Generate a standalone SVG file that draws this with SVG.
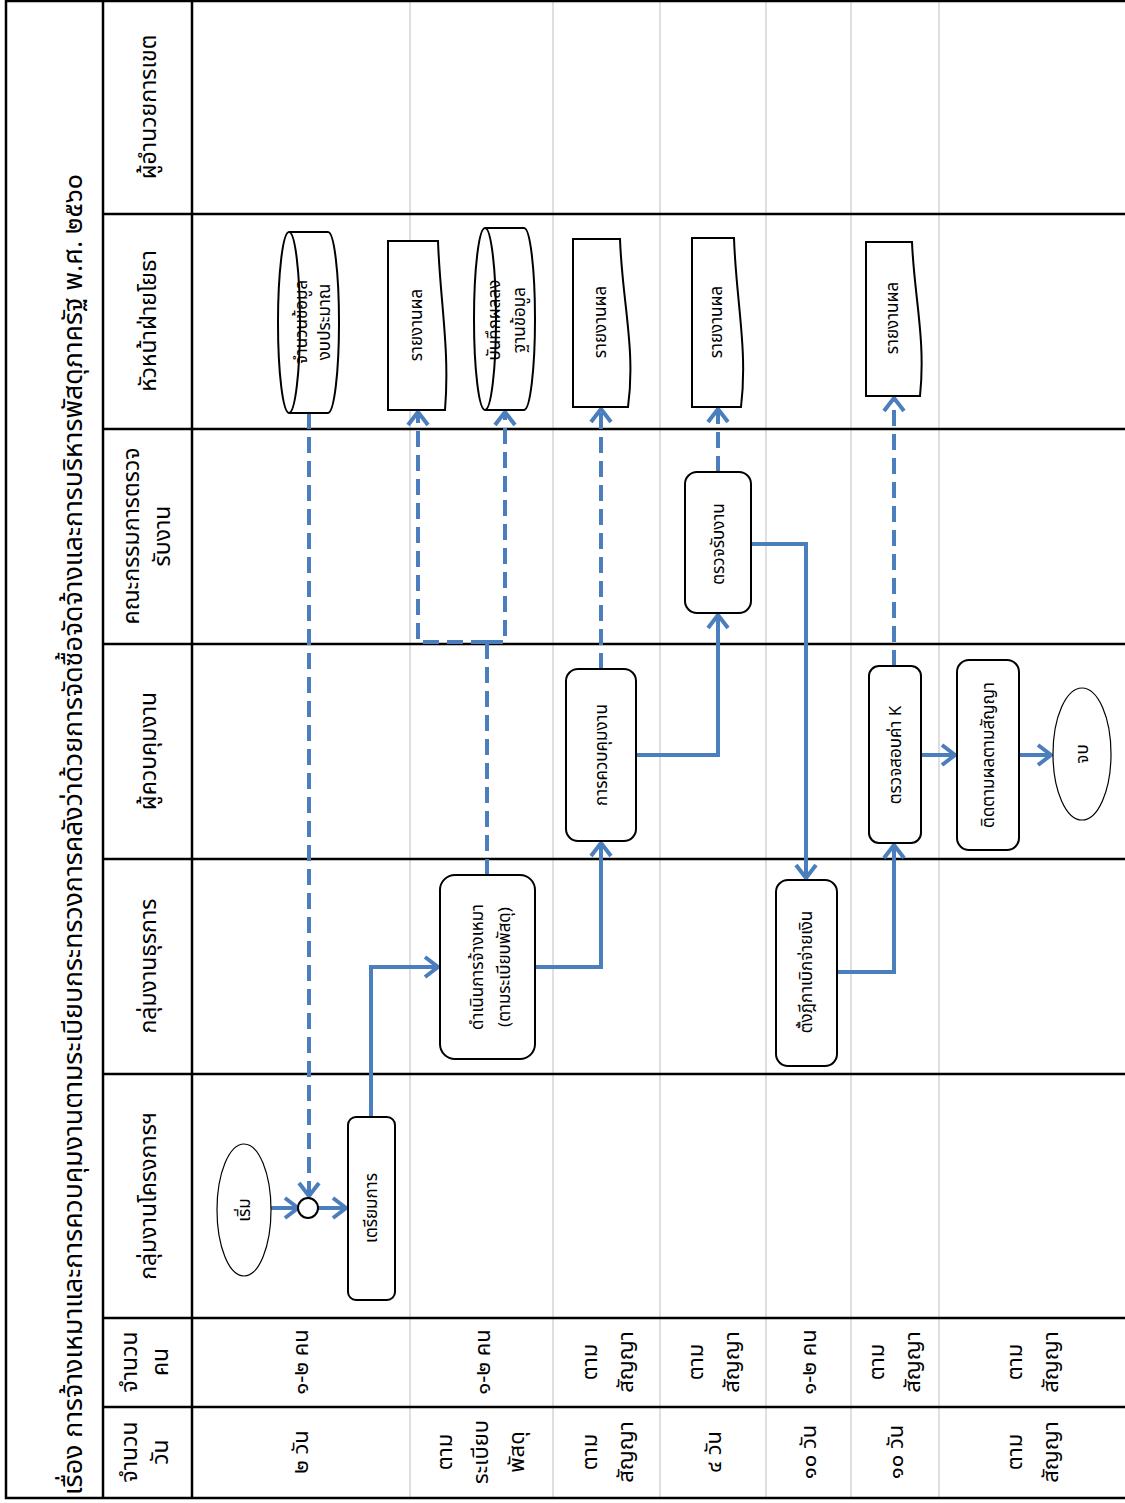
<svg xmlns="http://www.w3.org/2000/svg" width="1125" height="1503" viewBox="0 0 1125 1503">
<defs>
<style>
.t{font-family:"Noto Sans Thai","Noto Sans","DejaVu Sans",sans-serif;fill:#000;text-anchor:middle}
.grid{stroke:#000;stroke-width:2.5;fill:none}
.thin{stroke:#BFBFBF;stroke-width:1;fill:none}
.node{fill:#fff;stroke:#000;stroke-width:2}
.c{fill:none;stroke:#4A7EBD;stroke-width:4}
.d{stroke-dasharray:16,8}
</style>
<marker id="ah" markerUnits="userSpaceOnUse" markerWidth="20" markerHeight="24" viewBox="-16 -12 20 24" refX="0" refY="0" orient="auto">
<path d="M-13,-10 L0,0 L-13,10" fill="none" stroke="#4A7EBD" stroke-width="4"/>
</marker>
</defs>
<rect width="1125" height="1503" fill="#fff"/>
<g id="grid">
<g class="thin">
<path d="M410,0V1498M553,0V1498M660,0V1498M766,0V1498M851,0V1498M939,0V1498"/>
</g>
<g class="grid">
<rect x="6" y="1" width="1125" height="1497"/>
<path d="M103,0V1498M192,0V1498"/>
<path d="M103,214H1125M103,429H1125M103,644H1125M103,859H1125M103,1074H1125M103,1318H1125M103,1407H1125"/>
</g>
</g>
<g id="title">
<text class="t" style="text-anchor:start" font-size="26.7" transform="translate(82,1495) rotate(-90)">เรื่อง การจ้างเหมาและการควบคุมงานตามระเบียบกระทรวงการคลังว่าด้วยการจัดซื้อจัดจ้างและการบริหารพัสดุภาครัฐ พ.ศ. ๒๕๖๐</text>
</g>
<g id="lanes" font-size="23">
<text class="t" transform="translate(156,107) rotate(-90)">ผู้อำนวยการเขต</text>
<text class="t" transform="translate(156,321) rotate(-90)">หัวหน้าฝ่ายโยธา</text>
<text class="t" transform="translate(139,536) rotate(-90)">คณะกรรมการตรวจ<tspan x="0" dy="31">รับงาน</tspan></text>
<text class="t" transform="translate(156,751) rotate(-90)">ผู้ควบคุมงาน</text>
<text class="t" transform="translate(156,966) rotate(-90)">กลุ่มงานธุรการ</text>
<text class="t" transform="translate(156,1196) rotate(-90)">กลุ่มงานโครงการฯ</text>
<text class="t" transform="translate(137,1362) rotate(-90)">จำนวน<tspan x="0" dy="31">คน</tspan></text>
<text class="t" transform="translate(137,1452) rotate(-90)">จำนวน<tspan x="0" dy="31">วัน</tspan></text>
</g>
<g id="rows" font-size="22">
<text class="t" transform="translate(308,1362) rotate(-90)">๑-๒ คน</text>
<text class="t" transform="translate(308,1452) rotate(-90)">๒ วัน</text>
<text class="t" transform="translate(490,1362) rotate(-90)">๑-๒ คน</text>
<text class="t" transform="translate(452,1452) rotate(-90)">ตาม<tspan x="0" dy="36">ระเบียบ</tspan><tspan x="0" dy="36">พัสดุ</tspan></text>
<text class="t" transform="translate(597,1362) rotate(-90)">ตาม<tspan x="0" dy="36">สัญญา</tspan></text>
<text class="t" transform="translate(597,1452) rotate(-90)">ตาม<tspan x="0" dy="36">สัญญา</tspan></text>
<text class="t" transform="translate(703,1362) rotate(-90)">ตาม<tspan x="0" dy="36">สัญญา</tspan></text>
<text class="t" transform="translate(721,1452) rotate(-90)">๔ วัน</text>
<text class="t" transform="translate(816,1362) rotate(-90)">๑-๒ คน</text>
<text class="t" transform="translate(816,1452) rotate(-90)">๑๐ วัน</text>
<text class="t" transform="translate(884,1362) rotate(-90)">ตาม<tspan x="0" dy="36">สัญญา</tspan></text>
<text class="t" transform="translate(903,1452) rotate(-90)">๑๐ วัน</text>
<text class="t" transform="translate(1022,1362) rotate(-90)">ตาม<tspan x="0" dy="36">สัญญา</tspan></text>
<text class="t" transform="translate(1022,1452) rotate(-90)">ตาม<tspan x="0" dy="36">สัญญา</tspan></text>
</g>
<g id="connectors" class="c">
<path d="M271,1208H298" marker-end="url(#ah)"/>
<path d="M318,1208H346" marker-end="url(#ah)"/>
<path class="d" d="M309,413V1196" marker-end="url(#ah)"/>
<path d="M371,1117V967H438" marker-end="url(#ah)"/>
<path class="d" d="M487,875V642"/>
<path class="d" d="M487,642H418V412" marker-end="url(#ah)"/>
<path class="d" d="M487,642H505V412" marker-end="url(#ah)"/>
<path d="M535,967H601V843" marker-end="url(#ah)"/>
<path class="d" d="M601,669V409" marker-end="url(#ah)"/>
<path d="M636,755H718V615" marker-end="url(#ah)"/>
<path class="d" d="M718,472V409" marker-end="url(#ah)"/>
<path d="M751,544H806V878" marker-end="url(#ah)"/>
<path d="M837,972H894V845" marker-end="url(#ah)"/>
<path class="d" d="M894,666V398" marker-end="url(#ah)"/>
<path d="M921,755H955" marker-end="url(#ah)"/>
<path d="M1019,755H1051" marker-end="url(#ah)"/>
</g>
<g id="n-start"><ellipse class="node" style="stroke-width:1.2" cx="244" cy="1210" rx="27" ry="66"/><text class="t" font-size="17" transform="translate(250,1210) rotate(-90)">เริ่ม</text></g>
<g id="n-join"><circle class="node" cx="308" cy="1208" r="10"/></g>
<g id="n-prep"><rect class="node" x="348" y="1117" width="47" height="183" rx="8"/><text class="t" font-size="17" transform="translate(377,1208) rotate(-90)">เตรียมการ</text></g>
<g id="n-budget"><path class="node" d="M289,232H328A11,90.5 0 0 1 328,413H289"/><ellipse class="node" cx="289" cy="322.5" rx="11" ry="90.5"/><text class="t" font-size="17" transform="translate(307,322) rotate(-90)">จำนวนข้อมูล<tspan x="0" dy="23">งบประมาณ</tspan></text></g>
<g id="n-report1"><path class="node" d="M388,241H438C440,300 450,350 445,410H388Z"/><text class="t" font-size="17" transform="translate(422,325) rotate(-90)">รายงานผล</text></g>
<g id="n-db"><path class="node" d="M485,228H524A11,91 0 0 1 524,410H485"/><ellipse class="node" cx="485" cy="319" rx="11" ry="91"/><text class="t" font-size="17" transform="translate(500,320) rotate(-90)">บันทึกผลลง<tspan x="0" dy="25">ฐานข้อมูล</tspan></text></g>
<g id="n-report2"><path class="node" d="M573,239H620C622,300 636,350 628,407H573Z"/><text class="t" font-size="17" transform="translate(606,322) rotate(-90)">รายงานผล</text></g>
<g id="n-report3"><path class="node" d="M692,238H734C736,300 748,350 741,407H692Z"/><text class="t" font-size="17" transform="translate(722,322) rotate(-90)">รายงานผล</text></g>
<g id="n-report4"><path class="node" d="M866,242H912C914,295 926,340 920,396H866Z"/><text class="t" font-size="17" transform="translate(898,318) rotate(-90)">รายงานผล</text></g>
<g id="n-hire"><rect class="node" x="440" y="875" width="95" height="184" rx="15"/><text class="t" font-size="17" transform="translate(483,967) rotate(-90)">ดำเนินการจ้างเหมา<tspan x="0" dy="27">(ตามระเบียบพัสดุ)</tspan></text></g>
<g id="n-control"><rect class="node" x="566" y="669" width="70" height="172" rx="12"/><text class="t" font-size="17" transform="translate(607,755) rotate(-90)">การควบคุมงาน</text></g>
<g id="n-inspect"><rect class="node" x="685" y="472" width="66" height="141" rx="12"/><text class="t" font-size="17" transform="translate(724,544) rotate(-90)">ตรวจรับงาน</text></g>
<g id="n-voucher"><rect class="node" x="776" y="880" width="61" height="186" rx="12"/><text class="t" font-size="17" transform="translate(812,972) rotate(-90)">ตั้งฎีกาเบิกจ่ายเงิน</text></g>
<g id="n-kcheck"><rect class="node" x="869" y="666" width="52" height="177" rx="10"/><text class="t" font-size="17" transform="translate(901,755) rotate(-90)">ตรวจสอบค่า K</text></g>
<g id="n-follow"><rect class="node" x="957" y="660" width="62" height="190" rx="12"/><text class="t" font-size="17" transform="translate(994,755) rotate(-90)">ติดตามผลตามสัญญา</text></g>
<g id="n-end"><ellipse class="node" style="stroke-width:1.2" cx="1082" cy="754" rx="29" ry="66"/><text class="t" font-size="17" transform="translate(1088,754) rotate(-90)">จบ</text></g>
</svg>
